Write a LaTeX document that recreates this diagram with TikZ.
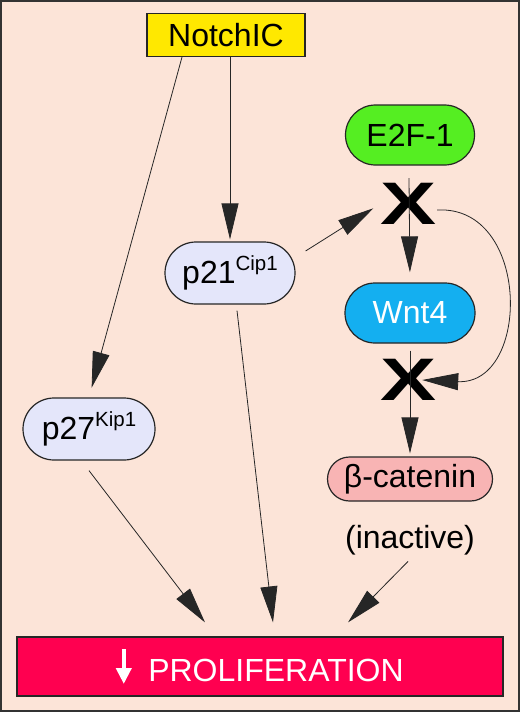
\documentclass[tikz,border=0pt]{standalone}
\usepackage{fontspec}
\setmainfont{Liberation Sans}
\usetikzlibrary{positioning, arrows.meta, calc}
\definecolor{cBg}{RGB}{252,228,216}
\definecolor{cYel}{RGB}{255,232,0}
\definecolor{cGrn}{RGB}{85,238,34}
\definecolor{cBlu}{RGB}{20,175,240}
\definecolor{cLav}{RGB}{228,230,250}
\definecolor{cPnk}{RGB}{248,180,180}
\definecolor{cRed}{RGB}{255,0,80}
\newcommand{\supk}[1]{\raisebox{13pt}{\fontsize{20.5}{21}\selectfont #1}}
\newcommand{\downarr}{\tikz[baseline=0pt]\draw[white, line width=4.5pt, -{Triangle[length=16pt, width=15pt]}] (0pt,32pt) -- (0pt,-3pt);}

\begin{document}
\begin{tikzpicture}[x=1pt, y=-1pt,
    box/.style={draw=black!85, line width=1.2pt, minimum height=60pt, inner sep=0pt, font=\fontsize{32}{38}\selectfont},
    pill/.style={box, rounded corners=30pt},
    cross/.style={inner sep=5pt, font=\fontsize{60}{60}\selectfont\bfseries},
    arr/.style={draw=black!85, line width=0.8pt, -{Triangle[length=36pt, width=17pt]}, shorten >=10pt}]
    \useasboundingbox (0,0) rectangle (520,712);
    % background frame
    \draw[fill=cBg, line width=1.5pt, draw=black!80] (1,1) rectangle (519,711);

    % top and right column
    \node[box, fill=cYel, minimum width=158pt, minimum height=43pt] (notch) at (226,35) {NotchIC};
    \node[pill, fill=cGrn, minimum width=129pt] (e2f) at (410,135) {E2F-1};
    \node[cross] (x1) at (409,204) {\scalebox{1.4}[1]{X}};
    \node[pill, fill=cBlu, text=white, minimum width=130pt] (wnt) at (410,313) {Wnt4};
    \node[cross] (x2) at (409,380) {\scalebox{1.4}[1]{X}};
    \node[pill, fill=cPnk, minimum width=165pt, minimum height=44pt, rounded corners=22pt] (bcat) at (410,479) {β-catenin};
    \node[font=\fontsize{32}{38}\selectfont] (inact) at (410,540) {(inactive)};

    % inhibitors
    \node[pill, fill=cLav, minimum width=130pt, minimum height=62pt, rounded corners=31pt] (p21) at (230,273) {p21\supk{Cip1}};
    \node[pill, fill=cLav, minimum width=132pt, minimum height=62pt, rounded corners=31pt] (p27) at (89,429) {p27\supk{Kip1}};

    % output
    \node[box, fill=cRed, text=white, minimum width=486pt, minimum height=59pt] (prolif) at (260,666.5) {\downarr\hspace{17pt}PROLIFERATION};

    % NotchIC targets
    \draw[arr] ([xshift=-44pt]notch.south) -- (p27.north);
    \draw[arr, shorten >=2pt] (p21.north |- notch.south) -- (p21.north);

    % E2F-1 / Wnt4 chain
    \draw[arr] ($(p21.east)+(10,-22)$) -- ($(x1.west)+(6,-1)$);
    \draw[arr] (x1.north) -- (wnt.north);
    \draw[arr, shorten >=3pt] ($(wnt.south)+(0,7)$) -- (bcat.north);
    \draw[arr, shorten >=0pt] ($(x1.east)+(-5,6)$) .. controls (531,205) and (531,385) .. ($(x2.east)+(-20,0)$);

    % to proliferation
    \draw[arr, shorten >=0pt] ($(p27.south)+(0,10)$) -- ($(prolif.north)+(-55,-14)$);
    \draw[arr, shorten >=0pt] ($(p21.south)+(7,6)$) -- ($(prolif.north)+(13,-14)$);
    \draw[arr, shorten >=0pt] ($(inact.south)+(-2,3)$) -- ($(prolif.north)+(88,-14)$);
\end{tikzpicture}
\end{document}
